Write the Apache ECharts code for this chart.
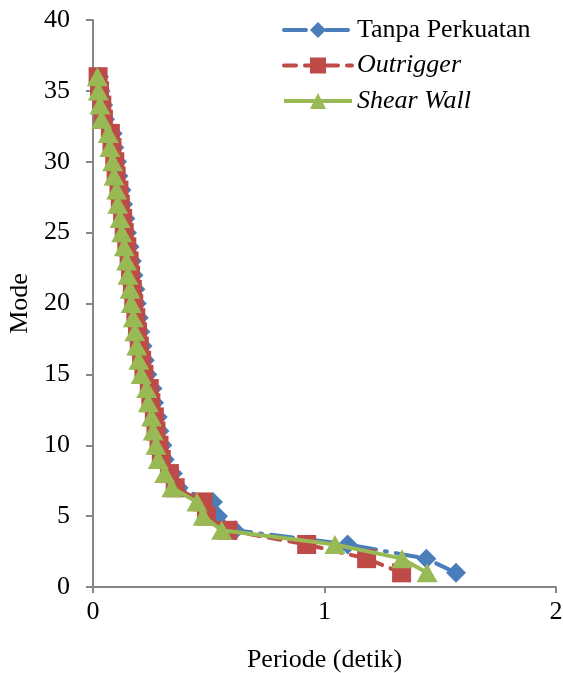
<!DOCTYPE html>
<html>
<head>
<meta charset="utf-8">
<script src="https://cdn.jsdelivr.net/npm/echarts@6/dist/echarts.min.js"></script>
<style>html,body{margin:0;padding:0;background:#fff}#c{width:563px;height:673px}</style>
</head>
<body>
<div id="c"></div>
<script>
var modes = [1,2,3,4,5,6,7,8,9,10,11,12,13,14,15,16,17,18,19,20,21,22,23,24,25,26,27,28,29,30,31,32,33,34,35,36];
var tanpaPerkuatan = [1.568,1.440,1.100,0.613,0.540,0.518,0.370,0.345,0.310,0.300,0.287,0.280,0.264,0.257,0.235,0.224,0.214,0.205,0.198,0.189,0.183,0.175,0.168,0.158,0.147,0.140,0.130,0.123,0.110,0.104,0.092,0.085,0.052,0.044,0.033,0.026];
var outrigger = [1.333,1.182,0.923,0.583,0.490,0.475,0.355,0.330,0.295,0.285,0.272,0.265,0.250,0.243,0.220,0.210,0.200,0.192,0.185,0.176,0.170,0.162,0.156,0.146,0.135,0.128,0.118,0.112,0.100,0.094,0.082,0.075,0.045,0.038,0.028,0.022];
var shearWall = [1.443,1.335,1.045,0.556,0.476,0.449,0.341,0.310,0.282,0.272,0.260,0.253,0.239,0.232,0.208,0.198,0.189,0.181,0.174,0.165,0.160,0.151,0.145,0.135,0.124,0.117,0.107,0.102,0.091,0.085,0.073,0.066,0.037,0.030,0.023,0.019];
var seriesNames = ['Tanpa Perkuatan','Outrigger','Shear Wall'];
var xTicks = [0,1,2];
var yTicks = [0,5,10,15,20,25,30,35,40];

function pairs(xs){ return xs.map(function(v,i){ return [v, modes[i]]; }); }

var font = 'Liberation Serif, Times New Roman, serif';
var fs = 26;
var axisColor = '#868686';
var chart = echarts.init(document.getElementById('c'));
chart.setOption({
  animation:false,
  backgroundColor:'#ffffff',
  grid:{left:93,right:7,top:20,bottom:86,containLabel:false,outerBoundsMode:'none'},
  legend:{
    orient:'vertical', left:277, top:12, itemWidth:68, itemHeight:20, itemGap:9.5,
    lineStyle:{width:4},
    textStyle:{fontFamily:font,fontSize:fs,color:'#000',
      rich:{i:{fontFamily:font,fontSize:fs,fontStyle:'italic',color:'#000'}}},
    formatter:function(n){ return n==='Tanpa Perkuatan' ? n : '{i|'+n+'}'; },
    data:seriesNames
  },
  xAxis:{
    type:'value', min:xTicks[0], max:xTicks[xTicks.length-1], interval:1,
    name:'Periode (detik)', nameLocation:'middle', nameGap:60,
    nameTextStyle:{fontFamily:font,fontSize:fs,color:'#000'},
    axisLine:{lineStyle:{color:axisColor,width:2}},
    axisTick:{show:true,length:6,lineStyle:{color:axisColor,width:2}},
    axisLabel:{fontFamily:font,fontSize:fs,color:'#000',margin:12},
    splitLine:{show:false}
  },
  yAxis:{
    type:'value', min:yTicks[0], max:yTicks[yTicks.length-1], interval:5,
    name:'Mode', nameLocation:'middle', nameGap:50,
    nameTextStyle:{fontFamily:font,fontSize:fs,color:'#000'},
    axisLine:{show:true,lineStyle:{color:axisColor,width:2}},
    axisTick:{show:true,length:7,lineStyle:{color:axisColor,width:2}},
    axisLabel:{fontFamily:font,fontSize:fs,color:'#000',margin:23},
    splitLine:{show:false}
  },
  series:[
    {name:seriesNames[0], type:'line', data:pairs(tanpaPerkuatan), symbol:'diamond', symbolSize:20,
     itemStyle:{color:'#4a7ebb'}, lineStyle:{color:'#4a7ebb',width:4,type:[22,9,2,9],cap:'round'}, z:2},
    {name:seriesNames[1], type:'line', data:pairs(outrigger), symbol:'rect', symbolSize:19,
     itemStyle:{color:'#be4b48'}, lineStyle:{color:'#be4b48',width:4,type:[12,9],cap:'round'}, z:3},
    {name:seriesNames[2], type:'line', data:pairs(shearWall), symbol:'triangle', symbolSize:[21,19],
     itemStyle:{color:'#98b954'}, lineStyle:{color:'#98b954',width:4}, z:4}
  ]
});
</script>
</body>
</html>
